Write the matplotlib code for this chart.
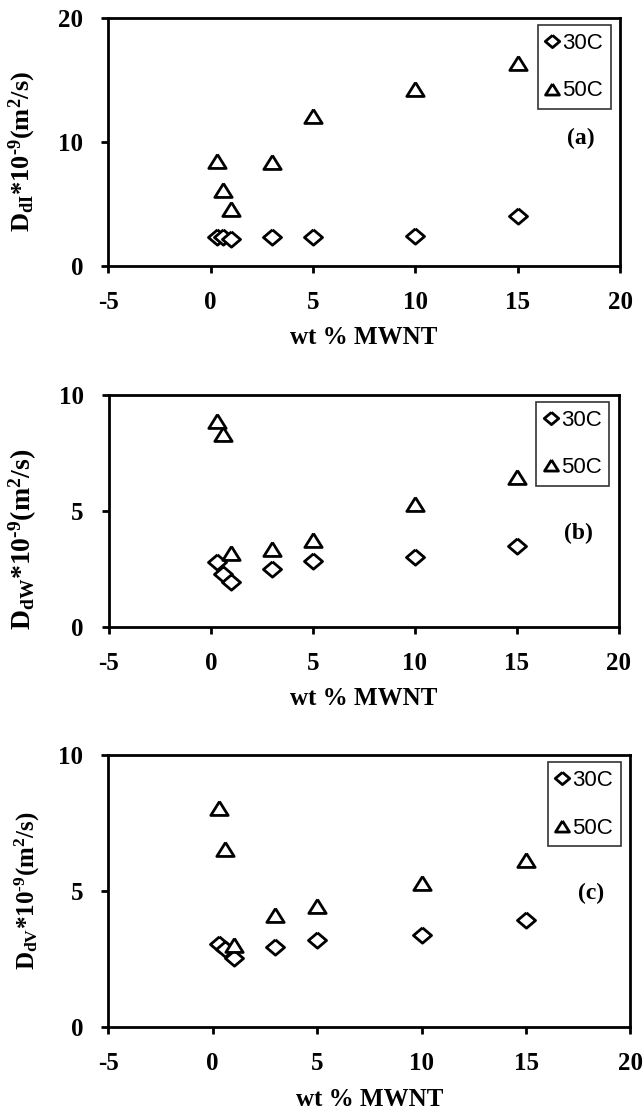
import matplotlib
matplotlib.use('Agg')
import matplotlib.pyplot as plt

# --- datos ---
wt_mwnt = [0.3, 0.6, 1, 3, 5, 10, 15]

ddi_30 = [2.3, 2.3, 2.2, 2.3, 2.3, 2.4, 4.0]
ddi_50 = [8.5, 6.1, 4.6, 8.4, 12.1, 14.3, 16.4]

ddw_30 = [2.8, 2.3, 1.95, 2.5, 2.85, 3.0, 3.5]
ddw_50 = [8.9, 8.3, 3.2, 3.35, 3.75, 5.3, 6.45]

ddv_30 = [3.05, 2.85, 2.55, 2.95, 3.2, 3.4, 3.95]
ddv_50 = [8.05, 6.55, 3.0, 4.1, 4.45, 5.3, 6.15]

# (subíndice, serie 30C, serie 50C, ymax, yticks, etiqueta, pos etiqueta, pos ylabel, tamaño ylabel)
paneles = [
    ('I', ddi_30, ddi_50, 20, [0, 10, 20], '(a)', (18.1, 10.3), (-0.168, 0.46), 19),
    ('W', ddw_30, ddw_50, 10, [0, 5, 10], '(b)', (18.0, 4.05), (-0.168, 0.38), 20),
    ('V', ddv_30, ddv_50, 10, [0, 5, 10], '(c)', (18.1, 4.9), (-0.155, 0.5), 18),
]

posiciones = [
    [0.168, 0.7623, 0.795, 0.2216],
    [0.169, 0.4397, 0.792, 0.2073],
    [0.168, 0.0822, 0.811, 0.2431],
]

# marcadores abiertos algo achatados
rombo = [(0, 0.85), (1, 0), (0, -0.85), (-1, 0), (0, 0.85)]
triangulo = [(0, 0.8), (1, -0.8), (-1, -0.8), (0, 0.8)]

plt.rcParams['font.family'] = ['Liberation Serif']
plt.rcParams['axes.unicode_minus'] = False
plt.rcParams['mathtext.fontset'] = 'custom'
plt.rcParams['mathtext.rm'] = 'Liberation Serif:bold'
plt.rcParams['mathtext.it'] = 'Liberation Serif:bold'
plt.rcParams['mathtext.bf'] = 'Liberation Serif:bold'

fig = plt.figure(figsize=(6.44, 11.19), dpi=100)

for (sub, y30, y50, ymax, yticks, etiqueta, pos_et, pos_yl, tam_yl), pos in zip(paneles, posiciones):
    ax = fig.add_axes(pos)
    ax.plot(wt_mwnt, y30, linestyle='none', marker=rombo, markersize=13,
            markerfacecolor='white', markeredgecolor='black', markeredgewidth=2.0, label='30C')
    ax.plot(wt_mwnt, y50, linestyle='none', marker=triangulo, markersize=12.5,
            markerfacecolor='white', markeredgecolor='black', markeredgewidth=2.0, label='50C')
    ax.set_xlim(-5, 20)
    ax.set_ylim(0, ymax)
    ax.set_xticks([-5, 0, 5, 10, 15, 20])
    ax.set_yticks(yticks)
    for s in ax.spines.values():
        s.set_linewidth(2.0)
    ax.tick_params(direction='out', length=5, width=2.0, labelsize=18, pad=13)
    for t in ax.get_xticklabels() + ax.get_yticklabels():
        t.set_fontweight('bold')
    ax.text(pos_yl[0], pos_yl[1], r'D$_{d%s}$*10$^{\text{-}9}$(m$^{2}$/s)' % sub,
            transform=ax.transAxes, rotation=90, ha='center', va='center',
            fontsize=tam_yl, fontweight='bold')
    ax.set_xlabel('wt % MWNT', fontsize=18, fontweight='bold', labelpad=9)
    ax.text(pos_et[0], pos_et[1], etiqueta, fontsize=17, fontweight='bold',
            ha='center', va='center')
    leg = ax.legend(loc='upper right', bbox_to_anchor=(0.99, 0.99), frameon=True, fancybox=False,
                    handlelength=0.6, handletextpad=0.15, labelspacing=1.2, borderpad=0.35,
                    borderaxespad=0.2, markerscale=0.8,
                    prop={'family': ['Liberation Sans Narrow', 'Liberation Sans'], 'size': 16})
    leg.get_frame().set_edgecolor('black')
    leg.get_frame().set_linewidth(1.2)

fig.savefig('out.png', dpi=100)
